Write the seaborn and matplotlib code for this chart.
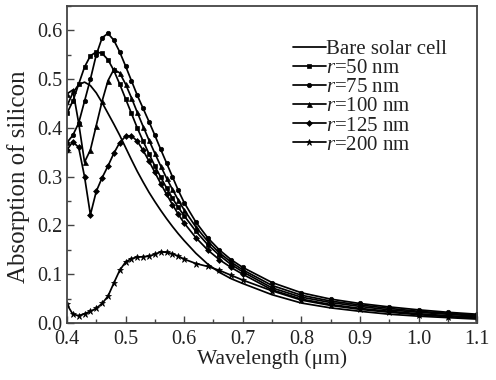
import numpy as np
import pandas as pd
import matplotlib
matplotlib.use("Agg")
import matplotlib.pyplot as plt
import seaborn as sns
from matplotlib.ticker import MultipleLocator, FormatStrFormatter

wavelength = [0.40, 0.41, 0.42, 0.43, 0.44, 0.45, 0.46, 0.47, 0.48, 0.49,
              0.50, 0.51, 0.52, 0.53, 0.54, 0.55, 0.56, 0.57, 0.58, 0.59,
              0.60, 0.62, 0.64, 0.66, 0.68, 0.70, 0.75, 0.80, 0.85, 0.90,
              0.95, 1.00, 1.05, 1.10]

bare = [0.445, 0.472, 0.489, 0.494, 0.487, 0.472, 0.452, 0.430, 0.408, 0.385,
        0.360, 0.335, 0.311, 0.289, 0.268, 0.249, 0.231, 0.214, 0.198, 0.183,
        0.169, 0.143, 0.121, 0.104, 0.091, 0.081, 0.058, 0.041, 0.031, 0.024,
        0.018, 0.014, 0.011, 0.008]

r50 = [0.430, 0.455, 0.490, 0.525, 0.548, 0.556, 0.553, 0.540, 0.518, 0.490,
       0.460, 0.430, 0.400, 0.373, 0.347, 0.322, 0.299, 0.277, 0.256, 0.237,
       0.220, 0.188, 0.161, 0.139, 0.120, 0.105, 0.072, 0.053, 0.042, 0.034,
       0.027, 0.022, 0.018, 0.014]

r75 = [0.370, 0.385, 0.410, 0.455, 0.500, 0.550, 0.585, 0.594, 0.580, 0.556,
       0.527, 0.497, 0.467, 0.440, 0.413, 0.385, 0.356, 0.328, 0.300, 0.272,
       0.247, 0.207, 0.175, 0.150, 0.130, 0.114, 0.083, 0.062, 0.049, 0.040,
       0.033, 0.027, 0.022, 0.018]

r100 = [0.470, 0.478, 0.410, 0.330, 0.355, 0.405, 0.455, 0.497, 0.520, 0.513,
        0.490, 0.462, 0.432, 0.403, 0.375, 0.348, 0.322, 0.297, 0.274, 0.252,
        0.232, 0.197, 0.168, 0.144, 0.125, 0.109, 0.077, 0.057, 0.045, 0.037,
        0.030, 0.024, 0.020, 0.016]

r125 = [0.355, 0.372, 0.360, 0.300, 0.222, 0.270, 0.298, 0.322, 0.348, 0.370,
        0.383, 0.384, 0.373, 0.354, 0.332, 0.309, 0.286, 0.264, 0.243, 0.223,
        0.205, 0.175, 0.150, 0.130, 0.114, 0.100, 0.068, 0.049, 0.038, 0.030,
        0.024, 0.019, 0.015, 0.012]

r200 = [0.038, 0.018, 0.015, 0.019, 0.024, 0.030, 0.040, 0.055, 0.082, 0.108,
        0.125, 0.132, 0.135, 0.136, 0.137, 0.141, 0.146, 0.145, 0.142, 0.137,
        0.131, 0.122, 0.116, 0.108, 0.098, 0.088, 0.066, 0.047, 0.036, 0.028,
        0.022, 0.017, 0.013, 0.010]

labels = ["Bare solar cell", "$r$=50 nm", "$r$=75 nm", "$r$=100 nm",
          "$r$=125 nm", "$r$=200 nm"]
x_ticks = [0.4, 0.5, 0.6, 0.7, 0.8, 0.9, 1.0, 1.1]
y_ticks = [0.0, 0.1, 0.2, 0.3, 0.4, 0.5, 0.6]

sns.set_style("ticks")
plt.rcParams["font.family"] = ["Liberation Serif", "DejaVu Serif"]
plt.rcParams["mathtext.fontset"] = "custom"
plt.rcParams["mathtext.it"] = "Liberation Serif:italic"
plt.rcParams["mathtext.rm"] = "Liberation Serif"

fig = plt.figure(figsize=(4.96, 3.80), dpi=100)
ax = fig.add_axes([0.135, 0.15, 0.827, 0.834])

series = [bare, r50, r75, r100, r125, r200]
markers = [None, "s", "o", "^", "D", "*"]
msizes = [0, 3.2, 3.2, 3.6, 3.0, 4.5]
for vals, lab, mk, ms in zip(series, labels, markers, msizes):
    df = pd.DataFrame({"w": wavelength, "a": vals})
    kw = dict(marker=mk, markersize=ms, markeredgewidth=0.5,
              markeredgecolor="black") if mk else {}
    sns.lineplot(data=df, x="w", y="a", ax=ax, color="black", linewidth=1.25,
                 label=lab, **kw)

ax.set_xlim(0.4, 1.1)
ax.set_ylim(0.0, 0.65)
ax.set_xticks(x_ticks)
ax.set_yticks(y_ticks)
ax.xaxis.set_major_formatter(FormatStrFormatter("%.1f"))
ax.yaxis.set_major_formatter(FormatStrFormatter("%.1f"))
ax.xaxis.set_minor_locator(MultipleLocator(0.05))
ax.yaxis.set_minor_locator(MultipleLocator(0.05))
ax.tick_params(which="both", direction="in", top=False, right=False,
               labelsize=14.5, color="#444444", labelcolor="#222222",
               width=1.0)
ax.tick_params(axis="y", pad=3)
ax.tick_params(axis="x", pad=5)
ax.tick_params(which="major", length=5)
ax.tick_params(which="minor", length=3)
for sp in ax.spines.values():
    sp.set_color("#444444")
    sp.set_linewidth(1.3)

ax.set_xlabel("Wavelength (μm)", fontsize=15.5, labelpad=0, color="#222222")
ax.set_ylabel("Absorption of silicon", fontsize=18, color="#222222")
ax.yaxis.set_label_coords(-0.09, 0.46)

leg = ax.legend(loc="upper left", bbox_to_anchor=(0.55, 0.895), frameon=False,
                fontsize=15, handlelength=1.6, handletextpad=0.0,
                labelspacing=-0.02, borderpad=0, borderaxespad=0)
for t in leg.get_texts():
    t.set_color("#222222")

fig.savefig("out.png", dpi=100)
